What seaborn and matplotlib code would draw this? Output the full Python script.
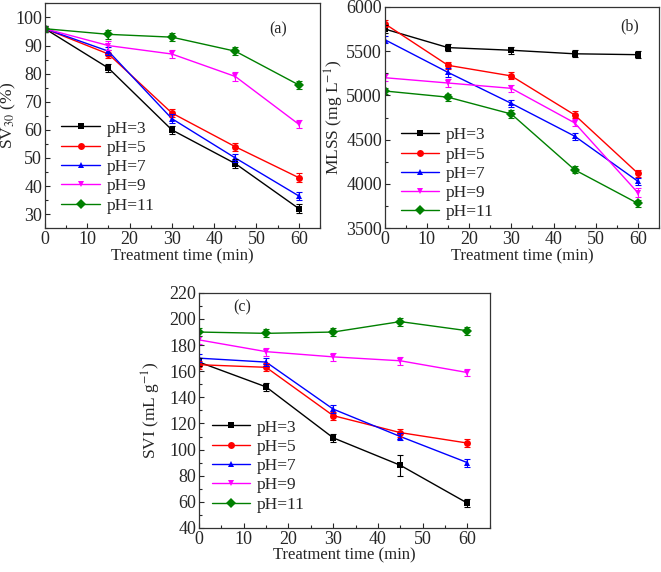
import pandas as pd
import seaborn as sns
import matplotlib.pyplot as plt
from matplotlib.ticker import MultipleLocator

time_min = [0, 15, 30, 45, 60]
ph_labels = ["pH=3", "pH=5", "pH=7", "pH=9", "pH=11"]

# SV30 (%)
sv30 = {
  "pH=3": [96, 82, 60, 48, 32],
  "pH=5": [96, 87, 66, 54, 43],
  "pH=7": [96, 88, 64, 50, 36.5],
  "pH=9": [96, 90, 87, 79, 62],
  "pH=11": [96, 94, 93, 88, 76],
}
sv30_err = {
  "pH=3": [1, 1.5, 1.5, 1.5, 1.5],
  "pH=5": [1, 1.5, 1.5, 1.5, 1.5],
  "pH=7": [1, 1.5, 1.5, 1.5, 1.5],
  "pH=9": [1, 1.5, 1.5, 1.5, 1.5],
  "pH=11": [1, 1.5, 1.5, 1.5, 1.5],
}

# MLSS (mg/L)
mlss = {
  "pH=3": [5750, 5540, 5510, 5470, 5460],
  "pH=5": [5810, 5340, 5220, 4780, 4120],
  "pH=7": [5630, 5260, 4910, 4540, 4030],
  "pH=9": [5200, 5140, 5080, 4690, 3900],
  "pH=11": [5050, 4980, 4790, 4160, 3780],
}
mlss_err = {
  "pH=3": [40, 40, 40, 40, 40],
  "pH=5": [40, 40, 40, 40, 40],
  "pH=7": [40, 50, 40, 40, 40],
  "pH=9": [40, 40, 40, 40, 50],
  "pH=11": [30, 40, 40, 40, 40],
}

# SVI (mL/g)
svi = {
  "pH=3": [167, 148, 109, 88, 59],
  "pH=5": [165, 163, 126, 113, 105],
  "pH=7": [170, 167, 131, 110, 90],
  "pH=9": [184, 175, 171, 168, 159],
  "pH=11": [190, 189, 190, 198, 191],
}
svi_err = {
  "pH=3": [3, 3, 3, 8, 3],
  "pH=5": [3, 3, 3, 3, 3],
  "pH=7": [3, 3, 3, 3, 3],
  "pH=9": [3, 3, 3, 3, 3],
  "pH=11": [3, 3, 3, 3, 3],
}

colors = ["black", "red", "blue", "magenta", "green"]
markers = ["s", "o", "^", "v", "D"]

sns.set_theme(style="ticks")
plt.rcParams["font.family"] = ["Liberation Serif", "DejaVu Serif"]
plt.rcParams["mathtext.fontset"] = "stix"
plt.rcParams["xtick.direction"] = "in"
plt.rcParams["ytick.direction"] = "in"


def draw_panel(ax, values, errors, ylabel, ylim, ystep, yminor, tag, tag_pos,
               ylabel_x, legend_anchor):
  rows = []
  for ph in ph_labels:
    for t, v in zip(time_min, values[ph]):
      rows.append({"time": t, "value": v, "pH": ph})
  df = pd.DataFrame(rows)
  sns.lineplot(
    data=df, x="time", y="value", hue="pH", style="pH",
    hue_order=ph_labels, style_order=ph_labels,
    palette=colors, markers=markers, dashes=False,
    markersize=5, linewidth=1, markeredgewidth=0, ax=ax,
  )
  for ph, c in zip(ph_labels, colors):
    ax.errorbar(time_min, values[ph], yerr=errors[ph], fmt="none",
                ecolor=c, elinewidth=0.8, capsize=2.5, capthick=0.8)
  ax.set_xlim(0, 65)
  ax.set_ylim(*ylim)
  ax.xaxis.set_major_locator(MultipleLocator(10))
  ax.xaxis.set_minor_locator(MultipleLocator(5))
  ax.yaxis.set_major_locator(MultipleLocator(ystep))
  ax.yaxis.set_minor_locator(MultipleLocator(yminor))
  ax.tick_params(which="major", length=3.5, width=0.8, labelsize=13, pad=2)
  ax.tick_params(which="minor", length=2, width=0.8)
  for s in ax.spines.values():
    s.set_linewidth(0.9)
    s.set_color("#333333")
  ax.set_xlabel("Treatment time (min)", fontsize=12, labelpad=0)
  ax.set_ylabel(ylabel, fontsize=12.5)
  ax.yaxis.set_label_coords(ylabel_x, 0.5)
  ax.text(tag_pos[0], tag_pos[1], tag, transform=ax.transAxes, fontsize=11.5,
          ha="center", va="center")
  ax.legend(loc="lower left", frameon=False, fontsize=12.5,
            handlelength=2.2, handletextpad=0.4, labelspacing=0.18,
            borderaxespad=0, borderpad=0, bbox_to_anchor=legend_anchor)


fig = plt.figure(figsize=(6.61, 5.72), dpi=100)
ax_a = fig.add_axes([0.068, 0.601, 0.416, 0.393])
ax_b = fig.add_axes([0.582, 0.601, 0.415, 0.387])
ax_c = fig.add_axes([0.301, 0.077, 0.440, 0.411])

draw_panel(ax_a, sv30, sv30_err, "SV$_{30}$ (%)", (25, 105), 10, 5, "(a)",
           (0.847, 0.884), -0.098, (0.06, 0.065))
draw_panel(ax_b, mlss, mlss_err, "MLSS (mg L$^{-1}$)", (3500, 6000), 500, 250, "(b)",
           (0.894, 0.91), -0.142, (0.058, 0.035))
draw_panel(ax_c, svi, svi_err, "SVI (mL g$^{-1}$)", (40, 220), 20, 10, "(c)",
           (0.15, 0.94), -0.124, (0.045, 0.065))

fig.savefig("out.png", dpi=100)
